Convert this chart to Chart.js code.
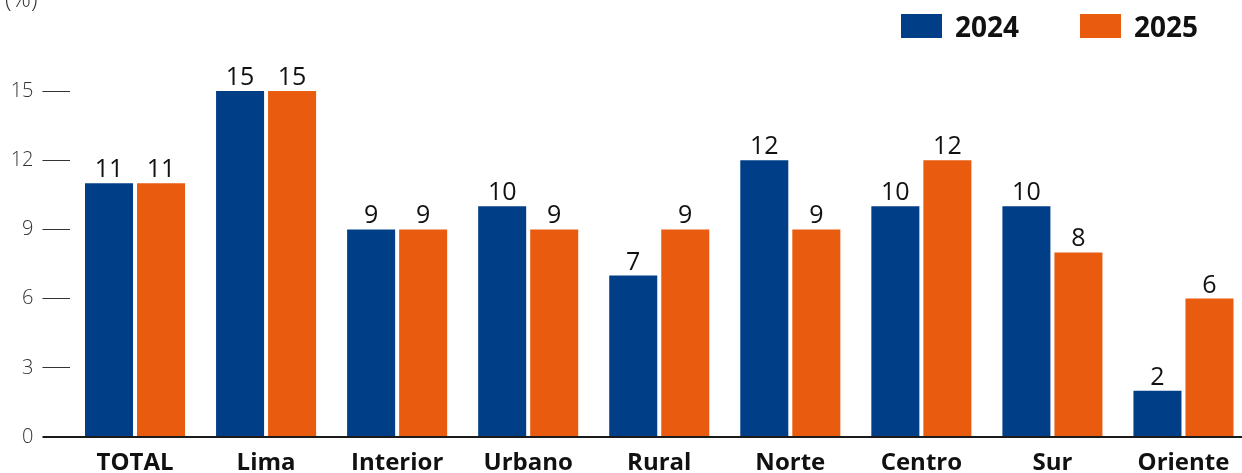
<!DOCTYPE html>
<html>
<head>
<meta charset="utf-8">
<script src="https://cdn.jsdelivr.net/npm/chart.js@4"></script>
<style>
  html, body { margin: 0; padding: 0; background: #fff; overflow: hidden; }
  #wrap { position: relative; width: 1242px; height: 473px; overflow: hidden; }
  #box { position: absolute; left: 0; top: 0; width: 1249px; height: 473px; }
  .unit { position: absolute; left: 5px; top: -19px; font: 300 24px "Open Sans", sans-serif; color: #333; }
  .legend { position: absolute; top: 14px; height: 24px; display: flex; align-items: center;
            font: 700 28px "Open Sans", sans-serif; color: #111; }
  .legend i { display: inline-block; width: 41px; height: 24px; margin-right: 13px; }
</style>
</head>
<body>
<div id="wrap">
  <div id="box"><canvas id="chart"></canvas></div>
  <div class="unit">(%)</div>
  <div class="legend" style="left:901px"><i style="background:#003f87"></i>2024</div>
  <div class="legend" style="left:1080px"><i style="background:#e95b0e"></i>2025</div>
</div>
<script>
const categories = ["TOTAL", "Lima", "Interior", "Urbano", "Rural", "Norte", "Centro", "Sur", "Oriente"];
const values2024 = [11, 15, 9, 10, 7, 12, 10, 10, 2];
const values2025 = [11, 15, 9, 9, 9, 9, 12, 8, 6];
const yTicks = [0, 3, 6, 9, 12, 15];

const BLUE = "#003f87";
const ORANGE = "#e95b0e";

// value labels above each bar
const barLabels = {
  id: "barLabels",
  afterDatasetsDraw(chart) {
    const ctx = chart.ctx;
    ctx.save();
    ctx.font = "400 25px 'Open Sans', sans-serif";
    ctx.fillStyle = "#111";
    ctx.textAlign = "center";
    ctx.textBaseline = "alphabetic";
    chart.data.datasets.forEach((ds, i) => {
      chart.getDatasetMeta(i).data.forEach((bar, j) => {
        ctx.fillText(String(ds.data[j]), bar.x, bar.y - 6);
      });
    });
    ctx.restore();
  }
};

new Chart(document.getElementById("chart"), {
  type: "bar",
  data: {
    labels: categories,
    datasets: [
      { label: "2024", data: values2024, backgroundColor: BLUE },
      { label: "2025", data: values2025, backgroundColor: ORANGE },
    ],
  },
  options: {
    responsive: true,
    maintainAspectRatio: false,
    animation: false,
    categoryPercentage: 0.794,
    barPercentage: 0.923,
    layout: { padding: { top: 91, right: 0, bottom: 0, left: 0 } },
    plugins: { legend: { display: false }, tooltip: { enabled: false } },
    scales: {
      x: {
        grid: { display: false },
        border: { display: false },
        ticks: { color: "#111", font: { family: "Open Sans", size: 24, weight: "700" }, padding: 4, maxRotation: 0 },
        afterFit(s) { s.height = 36; },
      },
      y: {
        min: 0,
        max: 15,
        afterBuildTicks(s) { s.ticks = yTicks.map(v => ({ value: v })); },
        border: { display: false },
        grid: {
          drawOnChartArea: true,
          color: c => (c.tick && c.tick.value === 0 ? "#1a1a1a" : "rgba(0,0,0,0)"),
          lineWidth: c => (c.tick && c.tick.value === 0 ? 2 : 1),
          tickColor: c => (c.tick && c.tick.value === 0 ? "#1a1a1a" : "#333"),
          tickWidth: c => (c.tick && c.tick.value === 0 ? 2 : 1),
          tickLength: 27,
        },
        ticks: { color: "#333", font: { family: "Open Sans", size: 20, weight: "300" }, padding: 9 },
        afterFit(s) { s.width = 69.5; },
      },
    },
  },
  plugins: [barLabels],
});
</script>
</body>
</html>
